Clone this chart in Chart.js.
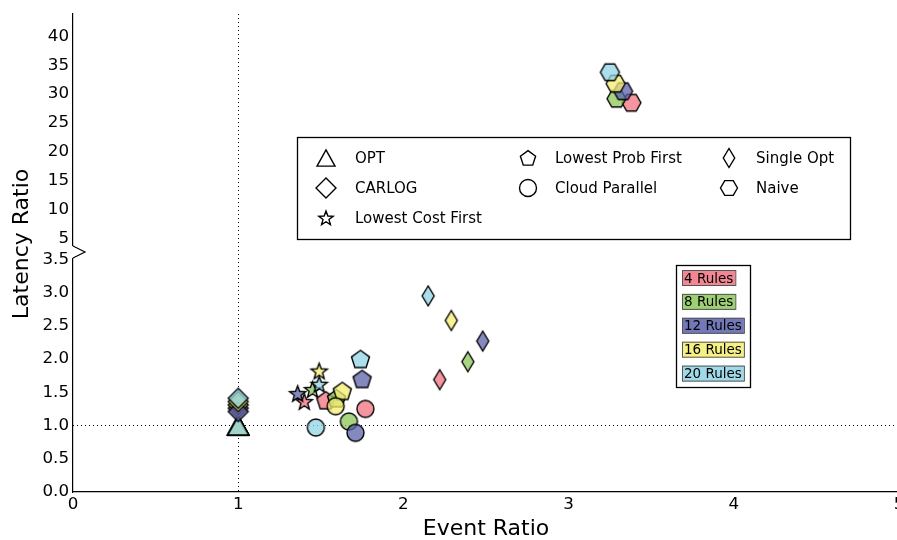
<!DOCTYPE html>
<html>
<head>
<meta charset="utf-8">
<script src="https://cdn.jsdelivr.net/npm/chart.js@4.4.1/dist/chart.umd.min.js"></script>
<style>
  html, body { margin: 0; padding: 0; background: #fff; overflow: hidden; }
  #wrap { position: relative; width: 910px; height: 540px; }
</style>
</head>
<body>
<div id="wrap"><canvas id="chart"></canvas></div>
<script>
const rules = ['4 Rules', '8 Rules', '12 Rules', '16 Rules', '20 Rules'];
const ruleColors = ['#f0717f', '#8cc75a', '#5b61ab', '#f4ee70', '#8fd4e4'];
const algorithms = ['OPT', 'CARLOG', 'Lowest Cost First', 'Lowest Prob First', 'Cloud Parallel', 'Single Opt', 'Naive'];

// one value per rule count (4, 8, 12, 16, 20)
const optX = [1, 1, 1, 1, 1];
const optY = [1, 1, 1, 1, 1];
const carlogX = [1, 1, 1, 1, 1];
const carlogY = [1.26, 1.31, 1.21, 1.36, 1.41];
const lcfX = [1.40, 1.45, 1.36, 1.49, 1.49];
const lcfY = [1.36, 1.54, 1.48, 1.82, 1.62];
const lpfX = [1.53, 1.595, 1.75, 1.63, 1.74];
const lpfY = [1.38, 1.41, 1.70, 1.52, 2.00];
const cpX = [1.77, 1.67, 1.71, 1.59, 1.47];
const cpY = [1.25, 1.06, 0.89, 1.29, 0.97];
const soX = [2.22, 2.39, 2.48, 2.29, 2.15];
const soY = [1.69, 1.96, 2.27, 2.58, 2.95];
const naiveX = [3.38, 3.29, 3.33, 3.285, 3.25];
const naiveY = [28.5, 29.2, 30.5, 31.8, 33.8];

const xTicks = [0, 1, 2, 3, 4, 5];
const lowTicks = [0, 0.5, 1, 1.5, 2, 2.5, 3, 3.5];
const highTicks = [5, 10, 15, 20, 25, 30, 35, 40];

const FONT = 'DejaVu Sans';

// marker shapes (matplotlib style)
function polygon(ctx, cx, cy, r, n, rot) {
    for (let i = 0; i < n; i++) {
        const a = rot + i * 2 * Math.PI / n;
        const px = cx + r * Math.cos(a), py = cy + r * Math.sin(a);
        if (i === 0) ctx.moveTo(px, py); else ctx.lineTo(px, py);
    }
    ctx.closePath();
}

function shapePath(ctx, shape, cx, cy, s) {
    ctx.beginPath();
    const r = s / 2;
    if (shape === 'circle') {
        ctx.arc(cx, cy, r, 0, Math.PI * 2);
    } else if (shape === 'triangle') {
        ctx.moveTo(cx, cy - r * 0.9);
        ctx.lineTo(cx + r, cy + r * 0.9);
        ctx.lineTo(cx - r, cy + r * 0.9);
        ctx.closePath();
    } else if (shape === 'diamond') {
        polygon(ctx, cx, cy, r, 4, -Math.PI / 2);
    } else if (shape === 'thindiamond') {
        ctx.moveTo(cx, cy - r);
        ctx.lineTo(cx + r * 0.6, cy);
        ctx.lineTo(cx, cy + r);
        ctx.lineTo(cx - r * 0.6, cy);
        ctx.closePath();
    } else if (shape === 'pentagon') {
        polygon(ctx, cx, cy + r * 0.08, r, 5, -Math.PI / 2);
    } else if (shape === 'hexagon') {
        polygon(ctx, cx, cy, r, 6, 0);
    } else if (shape === 'star') {
        for (let i = 0; i < 10; i++) {
            const a = -Math.PI / 2 + i * Math.PI / 5;
            const rr = i % 2 === 0 ? r : r * 0.42;
            const px = cx + rr * Math.cos(a), py = cy + rr * Math.sin(a) + r * 0.08;
            if (i === 0) ctx.moveTo(px, py); else ctx.lineTo(px, py);
        }
        ctx.closePath();
    }
}

function makeMarker(shape, fill, s, alpha) {
    const c = document.createElement('canvas');
    const size = Math.ceil(s + 4);
    c.width = size; c.height = size;
    const ctx = c.getContext('2d');
    shapePath(ctx, shape, size / 2, size / 2, s);
    ctx.globalAlpha = alpha;
    ctx.fillStyle = fill;
    ctx.fill();
    ctx.globalAlpha = 1;
    ctx.lineWidth = 1.4;
    ctx.lineJoin = 'miter';
    ctx.strokeStyle = '#000';
    ctx.stroke();
    return c;
}

const shapes = ['triangle', 'diamond', 'star', 'pentagon', 'circle', 'thindiamond', 'hexagon'];
const sizes = [21, 20, 17, 19, 17, 20, 19];
const legendSizes = [18, 20, 15, 16, 17, 19, 17];

function series(idx, xs, ys, axis) {
    return {
        label: algorithms[idx],
        yAxisID: axis,
        data: xs.map((x, i) => ({ x: x, y: ys[i] })),
        pointStyle: ruleColors.map(c => makeMarker(shapes[idx], c, sizes[idx], 0.75)),
        pointRadius: 10,
        pointHoverRadius: 10,
        showLine: false
    };
}

const datasets = [
    series(4, cpX, cpY, 'y'),
    series(3, lpfX, lpfY, 'y'),
    series(2, lcfX, lcfY, 'y'),
    series(5, soX, soY, 'y'),
    series(1, carlogX, carlogY, 'y'),
    series(0, optX, optY, 'y'),
    series(6, naiveX, naiveY, 'yTop')
];

const tickFont = { family: FONT, size: 16.7 };

const decor = {
    id: 'decor',
    beforeDatasetsDraw(chart) {
        const { ctx, chartArea: a, scales } = chart;
        const x1 = Math.round(scales.x.getPixelForValue(1)) + 0.5;
        const y1 = Math.round(scales.y.getPixelForValue(1)) - 0.5;
        ctx.save();
        ctx.strokeStyle = '#000';
        ctx.lineWidth = 1;
        ctx.setLineDash([1, 3]);
        ctx.beginPath(); ctx.moveTo(x1, a.top); ctx.lineTo(x1, a.bottom); ctx.stroke();
        ctx.beginPath(); ctx.moveTo(a.left, y1); ctx.lineTo(a.right, y1); ctx.stroke();
        ctx.restore();
    },
    afterDraw(chart) {
        const { ctx, chartArea: a, scales } = chart;
        const split = scales.y.top;
        ctx.save();
        // axis break
        ctx.fillStyle = '#fff';
        ctx.fillRect(a.left - 2, split - 6, 4, 12);
        ctx.strokeStyle = '#000';
        ctx.lineWidth = 1.2;
        ctx.beginPath();
        ctx.moveTo(a.left, split - 6);
        ctx.lineTo(a.left + 12, split);
        ctx.lineTo(a.left, split + 6);
        ctx.stroke();

        // y title
        ctx.fillStyle = '#000';
        ctx.font = '22px "' + FONT + '"';
        ctx.textAlign = 'center';
        ctx.textBaseline = 'middle';
        ctx.translate(22, 244);
        ctx.rotate(-Math.PI / 2);
        ctx.fillText('Latency Ratio', 0, 0);
        ctx.setTransform(1, 0, 0, 1, 0, 0);

        // marker legend
        ctx.fillStyle = '#fff';
        ctx.fillRect(297, 137, 553, 102);
        ctx.lineWidth = 1.3;
        ctx.strokeRect(297.5, 137.5, 553, 102);
        const cols = [326, 528, 729];
        const textX = [355, 555, 756];
        const rows = [158, 188, 218];
        const place = [[0, 0], [0, 1], [0, 2], [1, 0], [1, 1], [2, 0], [2, 1]];
        ctx.font = '15px "' + FONT + '"';
        ctx.textAlign = 'left';
        ctx.textBaseline = 'middle';
        place.forEach((p, i) => {
            const cx = cols[p[0]], cy = rows[p[1]];
            shapePath(ctx, shapes[i], cx, cy, legendSizes[i]);
            ctx.fillStyle = '#fff';
            ctx.fill();
            ctx.strokeStyle = '#000';
            ctx.lineWidth = 1.4;
            ctx.stroke();
            ctx.fillStyle = '#000';
            ctx.fillText(algorithms[i], textX[p[0]], cy + 1);
        });

        // rules legend
        ctx.fillStyle = '#fff';
        ctx.fillRect(676, 265, 74, 122);
        ctx.strokeStyle = '#000';
        ctx.lineWidth = 1.3;
        ctx.strokeRect(676.5, 265.5, 74, 122);
        ctx.font = '13.5px "' + FONT + '"';
        rules.forEach((r, i) => {
            const cy = 278 + i * 23.9;
            const w = ctx.measureText(r).width + 4;
            ctx.globalAlpha = 0.85;
            ctx.fillStyle = ruleColors[i];
            ctx.fillRect(682, cy - 8, w, 16);
            ctx.globalAlpha = 1;
            ctx.strokeStyle = '#555';
            ctx.lineWidth = 1;
            ctx.strokeRect(682.5, cy - 7.5, w, 15);
            ctx.fillStyle = '#000';
            ctx.fillText(r, 684, cy + 1);
        });
        ctx.restore();
    }
};

new Chart(document.getElementById('chart'), {
    type: 'scatter',
    data: { datasets: datasets },
    options: {
        responsive: true,
        maintainAspectRatio: false,
        animation: false,
        events: [],
        layout: { padding: { top: 12, right: 0, left: 0, bottom: 0 } },
        plugins: { legend: { display: false }, tooltip: { enabled: false } },
        scales: {
            x: {
                type: 'linear', min: 0, max: 5,
                afterBuildTicks: s => { s.ticks = xTicks.map(v => ({ value: v })); },
                grid: { display: false, drawTicks: false },
                border: { display: true, color: '#000', width: 1.2 },
                ticks: { color: '#000', font: tickFont, padding: 3, autoSkip: false, maxRotation: 0 },
                title: { display: true, text: 'Event Ratio', color: '#000', font: { family: FONT, size: 22 }, padding: { top: 0, bottom: -2 } },
                afterFit: s => { s.height = 48; s.paddingRight = 0; }
            },
            y: {
                type: 'linear', position: 'left', stack: 'lat', stackWeight: 241,
                min: 0, max: 3.61,
                afterBuildTicks: s => { s.ticks = lowTicks.map(v => ({ value: v })); },
                grid: { display: false, drawTicks: false },
                border: { display: true, color: '#000', width: 1.2 },
                ticks: { color: '#000', font: tickFont, padding: 4, autoSkip: false, callback: v => v.toFixed(1) },
                afterFit: s => { s.width = 73; }
            },
            yTop: {
                type: 'linear', position: 'left', stack: 'lat', stackWeight: 239,
                min: 2.6, max: 43.9,
                afterBuildTicks: s => { s.ticks = highTicks.map(v => ({ value: v })); },
                grid: { display: false, drawTicks: false },
                border: { display: true, color: '#000', width: 1.2 },
                ticks: { color: '#000', font: tickFont, padding: 4, autoSkip: false, callback: v => String(v) },
                afterFit: s => { s.width = 73; }
            }
        }
    },
    plugins: [decor]
});
</script>
</body>
</html>
